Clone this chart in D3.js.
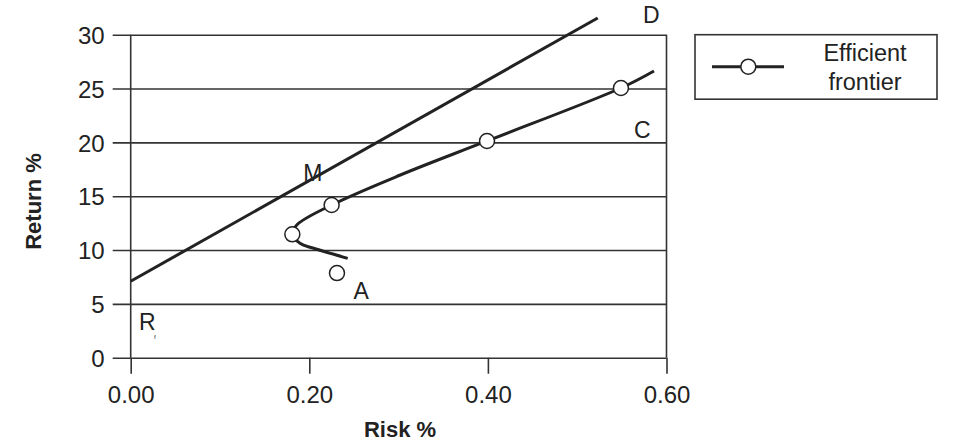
<!DOCTYPE html>
<html><head><meta charset="utf-8">
<script src="https://cdn.jsdelivr.net/npm/d3@7"></script>
<style>
body{margin:0;background:#fff;}
text{font-family:"Liberation Sans",Arial,Helvetica,sans-serif;fill:#222;}
</style></head>
<body><svg id="c" width="958" height="446"></svg>
<script>
// Data
const xTicks = [0, 0.2, 0.4, 0.6];
const yTicks = [0, 5, 10, 15, 20, 25, 30];
// Capital market line (Rf to D)
const cmlRisk = [0, 0.523];
const cmlReturn = [7.1, 31.55];
// Efficient frontier curve (ordered along curve)
const frontierRisk   = [0.243, 0.204, 0.190, 0.181, 0.186, 0.225, 0.302, 0.399, 0.549, 0.586];
const frontierReturn = [9.23, 10.19, 10.6, 11.46, 12.33, 14.18, 16.97, 20.13, 25.05, 26.63];
// Marked portfolios on the frontier
const markerRisk   = [0.181, 0.225, 0.399, 0.549];
const markerReturn = [11.46, 14.18, 20.13, 25.05];
// Portfolio A (off frontier)
const portARisk = [0.231];
const portAReturn = [7.86];
// Point labels
const labelText = ["D", "C", "M", "A", "R"];
const labelRisk = [0.583, 0.573, 0.204, 0.258, 0.0185];
const labelReturn = [31.85, 21.2, 17.2, 6.2, 3.3];

const svg = d3.select("#c");
const x = d3.scaleLinear().domain([0, 0.6]).range([130.7, 666.5]);
const y = d3.scaleLinear().domain([0, 30]).range([357.7, 34.7]);
const ink = "#222";

// y grid + ticks
const gy = svg.append("g").attr("transform", `translate(${x(0)},0)`)
  .call(d3.axisLeft(y).tickValues(yTicks).tickSize(-(x(0.6)-x(0))).tickSizeOuter(0).tickPadding(0));
gy.select(".domain").remove();
gy.selectAll(".tick line").attr("x1", -18).attr("x2", x(0.6)-x(0)).attr("stroke", "#333").attr("stroke-width", 1.6);
gy.selectAll(".tick text").attr("x", -26).attr("font-size", 24).style("fill", ink).attr("dy", "0.36em");

// x ticks
const gx = svg.append("g").attr("transform", `translate(0,${y(0)})`)
  .call(d3.axisBottom(x).tickValues(xTicks).tickFormat(d3.format(".2f")).tickSize(16).tickSizeOuter(0));
gx.select(".domain").remove();
gx.selectAll(".tick line").attr("stroke", "#333").attr("stroke-width", 1.6);
gx.selectAll(".tick text").attr("font-size", 24).style("fill", ink).attr("y", 37).attr("dy", "0.36em");

// left and right frame lines
svg.append("line").attr("x1", x(0)).attr("x2", x(0)).attr("y1", y(30)).attr("y2", y(0)).attr("stroke", "#333").attr("stroke-width", 1.6);
svg.append("line").attr("x1", x(0.6)).attr("x2", x(0.6)).attr("y1", y(30)).attr("y2", y(0)).attr("stroke", "#333").attr("stroke-width", 1.6);

// axis titles
svg.append("text").attr("x", 400).attr("y", 437).attr("text-anchor", "middle")
  .attr("font-size", 22).attr("font-weight", "bold").text("Risk %");
svg.append("text").attr("transform", "translate(40.5,201.5) rotate(-90)").attr("text-anchor", "middle")
  .attr("font-size", 22).attr("font-weight", "bold").text("Return %");

// CML
const line = d3.line().x(d => x(d[0])).y(d => y(d[1]));
svg.append("path").datum(cmlRisk.map((r, i) => [r, cmlReturn[i]]))
  .attr("d", line).attr("fill", "none").attr("stroke", ink).attr("stroke-width", 3);

// frontier
svg.append("path").datum(frontierRisk.map((r, i) => [r, frontierReturn[i]]))
  .attr("d", line.curve(d3.curveCatmullRom.alpha(0.5))).attr("fill", "none")
  .attr("stroke", ink).attr("stroke-width", 3);

// markers
svg.selectAll("circle.m").data(markerRisk.map((r, i) => [r, markerReturn[i]])).join("circle")
  .attr("class", "m").attr("cx", d => x(d[0])).attr("cy", d => y(d[1])).attr("r", 7.5)
  .attr("fill", "#fff").attr("stroke", ink).attr("stroke-width", 1.5);
svg.selectAll("circle.a").data(portARisk.map((r, i) => [r, portAReturn[i]])).join("circle")
  .attr("class", "a").attr("cx", d => x(d[0])).attr("cy", d => y(d[1])).attr("r", 7.5)
  .attr("fill", "#fff").attr("stroke", ink).attr("stroke-width", 1.5);

// labels
svg.selectAll("text.lbl").data(labelText).join("text").attr("class", "lbl")
  .attr("x", (d, i) => x(labelRisk[i])).attr("y", (d, i) => y(labelReturn[i]))
  .attr("text-anchor", "middle").attr("dy", "0.36em").attr("font-size", 23).text(d => d);
svg.append("text").attr("x", 154).attr("y", 339)
  .attr("font-size", 6).text("f");

// legend
const lg = svg.append("g");
lg.append("rect").attr("x", 695).attr("y", 34.7).attr("width", 242).attr("height", 64.5)
  .attr("fill", "#fff").attr("stroke", "#333").attr("stroke-width", 1.6);
lg.append("line").attr("x1", 712).attr("x2", 784).attr("y1", 66.7).attr("y2", 66.7).attr("stroke", ink).attr("stroke-width", 3);
lg.append("circle").attr("cx", 748.3).attr("cy", 66.7).attr("r", 7.5).attr("fill", "#fff").attr("stroke", ink).attr("stroke-width", 1.5);
lg.append("text").attr("x", 865).attr("y", 53).attr("dy", "0.36em").attr("text-anchor", "middle").attr("font-size", 23.5).text("Efficient");
lg.append("text").attr("x", 865).attr("y", 82).attr("dy", "0.36em").attr("text-anchor", "middle").attr("font-size", 23.5).text("frontier");
</script></body></html>
